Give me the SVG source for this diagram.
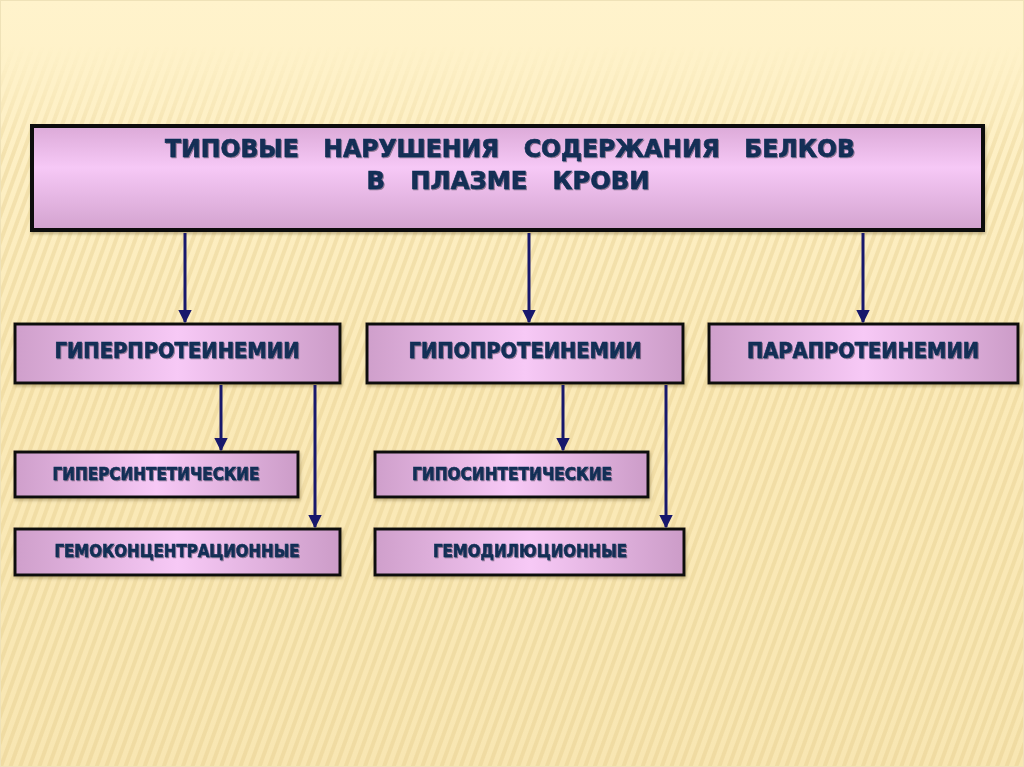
<svg xmlns="http://www.w3.org/2000/svg" width="1024" height="767" viewBox="0 0 1024 767">
  <defs>
    <linearGradient id="bg" x1="0" y1="0" x2="0" y2="1">
      <stop offset="0" stop-color="#fff3cc"/>
      <stop offset="0.5" stop-color="#fbeab8"/>
      <stop offset="1" stop-color="#f8e6b2"/>
    </linearGradient>
    <pattern id="stripes" width="9" height="9" patternUnits="userSpaceOnUse" patternTransform="rotate(20)">
      <rect width="4" height="9" fill="#e2c987"/>
    </pattern>
    <linearGradient id="fade" x1="0" y1="0" x2="0" y2="1">
      <stop offset="0" stop-color="#fff" stop-opacity="0"/>
      <stop offset="0.06" stop-color="#fff" stop-opacity="0"/>
      <stop offset="0.2" stop-color="#fff" stop-opacity="1"/>
      <stop offset="1" stop-color="#fff" stop-opacity="1"/>
    </linearGradient>
    <mask id="m">
      <rect width="1024" height="767" fill="url(#fade)"/>
    </mask>
    <linearGradient id="gTop" x1="0" y1="0" x2="0" y2="1">
      <stop offset="0" stop-color="#dcaad8"/>
      <stop offset="0.4" stop-color="#f6c8f6"/>
      <stop offset="1" stop-color="#d3a3cf"/>
    </linearGradient>
    <linearGradient id="gBox" x1="0" y1="0" x2="1" y2="0">
      <stop offset="0" stop-color="#cf9fcb"/>
      <stop offset="0.5" stop-color="#f7c9f6"/>
      <stop offset="1" stop-color="#cc9cc8"/>
    </linearGradient>
    <filter id="sh" x="-10%" y="-10%" width="120%" height="130%">
      <feDropShadow dx="1" dy="2" stdDeviation="1.5" flood-color="#7a6a40" flood-opacity="0.45"/>
    </filter>
    <filter id="tsh" x="-5%" y="-20%" width="110%" height="150%">
      <feDropShadow dx="1" dy="1" stdDeviation="0.6" flood-color="#000" flood-opacity="0.4"/>
    </filter>
    <marker id="arr" viewBox="0 0 10 10" refX="9" refY="5" markerWidth="4.5" markerHeight="4.5" orient="auto" markerUnits="strokeWidth">
      <path d="M0,0 L10,5 L0,10 z" fill="#18186c"/>
    </marker>
  </defs>
  <style>
    .box { stroke: #111; stroke-width: 3; filter: url(#sh); }
    .t { font-family: "DejaVu Sans", "Liberation Sans", sans-serif; font-weight: bold; fill: #122f55; stroke: #122f55; stroke-width: 0.7; text-anchor: middle; filter: url(#tsh); white-space: pre; }
    .conn line { stroke: #18186c; stroke-width: 3; marker-end: url(#arr); }
  </style>

  <rect width="1024" height="767" fill="url(#bg)"/>
  <rect width="1024" height="767" fill="url(#stripes)" opacity="0.35" mask="url(#m)"/>
  <rect x="0.5" y="0.5" width="1023" height="766" fill="none" stroke="#efe2b8" stroke-width="1"/>

  <g id="top">
    <rect class="box" x="32" y="126" width="951" height="104" fill="url(#gTop)" style="stroke-width:4"/>
    <text class="t" x="510" y="157" font-size="25" textLength="690" lengthAdjust="spacingAndGlyphs">ТИПОВЫЕ   НАРУШЕНИЯ   СОДЕРЖАНИЯ   БЕЛКОВ</text>
    <text class="t" x="508" y="189" font-size="25" textLength="283" lengthAdjust="spacingAndGlyphs">В   ПЛАЗМЕ   КРОВИ</text>
  </g>

  <g id="hyper">
    <rect class="box" x="15" y="324" width="325" height="59" fill="url(#gBox)"/>
    <text class="t" x="177" y="358" font-size="21" textLength="245" lengthAdjust="spacingAndGlyphs">ГИПЕРПРОТЕИНЕМИИ</text>
  </g>
  <g id="hypo">
    <rect class="box" x="367" y="324" width="316" height="59" fill="url(#gBox)"/>
    <text class="t" x="525" y="358" font-size="21" textLength="233" lengthAdjust="spacingAndGlyphs">ГИПОПРОТЕИНЕМИИ</text>
  </g>
  <g id="para">
    <rect class="box" x="709" y="324" width="309" height="59" fill="url(#gBox)"/>
    <text class="t" x="863" y="358" font-size="21" textLength="232" lengthAdjust="spacingAndGlyphs">ПАРАПРОТЕИНЕМИИ</text>
  </g>
  <g id="hypersynth">
    <rect class="box" x="15" y="452" width="283" height="45" fill="url(#gBox)"/>
    <text class="t" x="156" y="480" font-size="18" textLength="207" lengthAdjust="spacingAndGlyphs">ГИПЕРСИНТЕТИЧЕСКИЕ</text>
  </g>
  <g id="hemoconc">
    <rect class="box" x="15" y="529" width="325" height="46" fill="url(#gBox)"/>
    <text class="t" x="177" y="557" font-size="18" textLength="245" lengthAdjust="spacingAndGlyphs">ГЕМОКОНЦЕНТРАЦИОННЫЕ</text>
  </g>
  <g id="hyposynth">
    <rect class="box" x="375" y="452" width="273" height="45" fill="url(#gBox)"/>
    <text class="t" x="512" y="480" font-size="18" textLength="200" lengthAdjust="spacingAndGlyphs">ГИПОСИНТЕТИЧЕСКИЕ</text>
  </g>
  <g id="hemodil">
    <rect class="box" x="375" y="529" width="309" height="46" fill="url(#gBox)"/>
    <text class="t" x="530" y="557" font-size="18" textLength="194" lengthAdjust="spacingAndGlyphs">ГЕМОДИЛЮЦИОННЫЕ</text>
  </g>

  <g id="connectors" class="conn">
    <line x1="185" y1="233" x2="185" y2="322"/>
    <line x1="529" y1="233" x2="529" y2="322"/>
    <line x1="863" y1="233" x2="863" y2="322"/>
    <line x1="221" y1="385" x2="221" y2="450"/>
    <line x1="315" y1="385" x2="315" y2="527"/>
    <line x1="563" y1="385" x2="563" y2="450"/>
    <line x1="666" y1="385" x2="666" y2="527"/>
  </g>
</svg>
